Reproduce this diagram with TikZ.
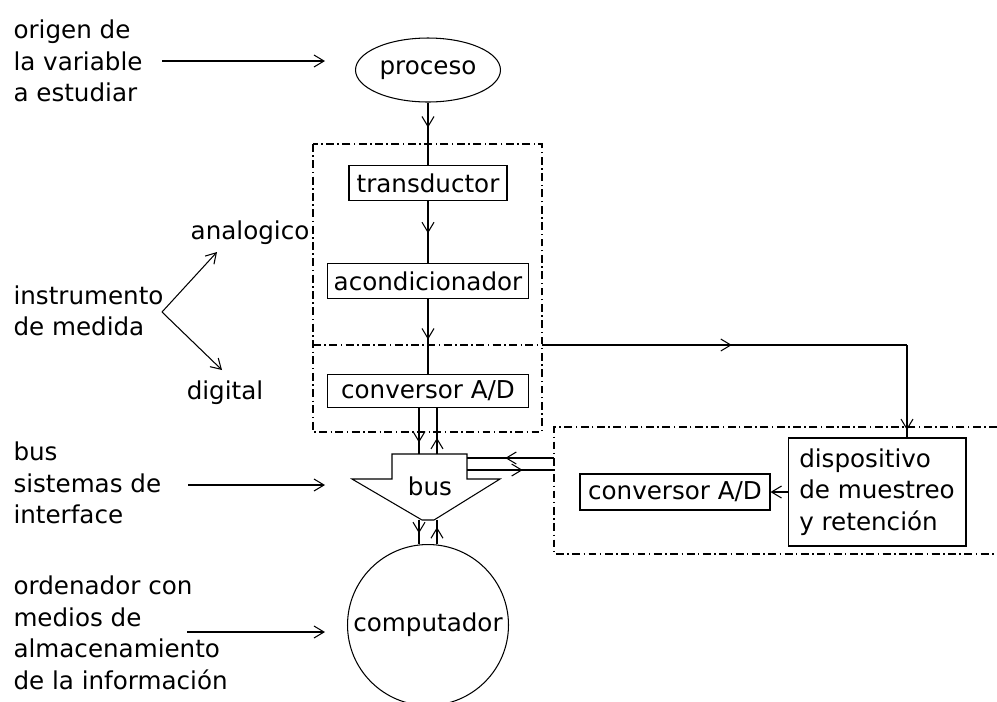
\documentclass[tikz,border=0pt]{standalone}
\usepackage{fontspec}
\setmainfont{DejaVu Sans}
\usetikzlibrary{arrows.meta,decorations.markings,shapes.geometric}

\begin{document}
\begin{tikzpicture}[x=0.02cm, y=-0.02cm, >={Straight Barb[length=2mm,width=2.4mm]},
  line width=0.6pt, font=\fontsize{14}{18}\selectfont,
  box/.style={draw, inner sep=0pt, minimum height=0.7cm},
  lbl/.style={align=left, inner sep=0pt, anchor=west},
  dashdot/.style={dash pattern=on 4.5pt off 2pt on 0.8pt off 2pt},
  midarrow/.style={postaction={decorate},
    decoration={markings, mark=at position #1 with {\arrow{>}}}}]
  \useasboundingbox (0,0) rectangle (997,701);

  % labels on the left
  \node[lbl] (origen) at (13,61) {origen de\\la variable\\a estudiar};
  \node[lbl] (instr) at (13,311) {instrumento\\de medida};
  \node[inner sep=0pt] (analog) at (250,233) {analogico};
  \node[inner sep=0pt] (digit) at (225,393) {digital};
  \node[lbl] (bussis) at (13,483) {bus\\sistemas de\\interface};
  \node[lbl] (orden) at (13,633) {ordenador con\\medios de\\almacenamiento\\de la información};

  \coordinate (o1) at (162,61);  \coordinate (o2) at (325,61);
  \coordinate (v) at (162,312);
  \coordinate (va) at (217,252); \coordinate (vd) at (222,370);
  \coordinate (b1) at (188,485); \coordinate (b2) at (325,485);
  \coordinate (c1) at (187,632); \coordinate (c2) at (325,632);
  \draw[->] (o1) -- (o2);
  \draw[->] (v) -- (va);
  \draw[->] (v) -- (vd);
  \draw[->] (b1) -- (b2);
  \draw[->] (c1) -- (c2);

  % measuring chain
  \node[draw, ellipse, inner sep=0pt, minimum width=2.9cm, minimum height=1.28cm] (proceso) at (428,70) {proceso};
  \node[box, minimum width=3.16cm] (transd) at (428,183) {transductor};
  \node[box, minimum width=4.02cm] (acond) at (428,281) {acondicionador};
  \node[box, minimum width=4.02cm, minimum height=0.66cm] (convA) at (428,391) {conversor A/D};

  \draw[dashdot] (313,144) rectangle (542,432);
  \coordinate (jn) at (428,345);
  \coordinate (dl) at (313,345); \coordinate (dr) at (542,345);
  \coordinate (brk) at (907,345);
  \draw[dashdot] (dl) -- (dr);

  \draw[midarrow=0.4] (proceso.south) -- (transd.north);
  \draw[midarrow=0.52] (transd.south) -- (acond.north);
  \draw[midarrow=0.88] (acond.south) -- (jn);
  \draw (jn) -- (convA.north);
  \draw[midarrow=0.52] (dr) -- (brk);

  % bus
  \node (bus) at (430,486) {bus};
  \draw (392,454) -- (467,454) -- (467,479) -- (500,479) -- (434,520)
    -- (422,520) -- (352,479) -- (392,479) -- cycle;
  \coordinate (busT) at (428,454);
  \coordinate (busB) at (428,520);
  \coordinate (busR1) at (467,458); \coordinate (busR2) at (467,470);

  \draw[midarrow=0.75] ([xshift=-0.18cm]convA.south) -- ([xshift=-0.18cm]busT);
  \draw[midarrow=0.35] ([xshift=0.18cm]busT) -- ([xshift=0.18cm]convA.south);

  % computer
  \node[draw, circle, inner sep=0pt, minimum size=3.22cm] (comp) at (428,625) {computador};
  \draw[midarrow=0.55] ([xshift=-0.18cm]busB) -- ([xshift=-0.18cm]comp.north);
  \draw[midarrow=0.7] ([xshift=0.18cm]comp.north) -- ([xshift=0.18cm]busB);

  % sample and hold branch
  \draw[dashdot] (997,427) -- (554,427) -- (554,554) -- (997,554);
  \coordinate (boxL1) at (554,458); \coordinate (boxL2) at (554,470);
  \draw[midarrow=0.56] (boxL1) -- (busR1);
  \draw[midarrow=0.64] (busR2) -- (boxL2);

  \node[box, minimum width=3.56cm, minimum height=2.16cm, align=left] (disp) at (877,492)
    {dispositivo\\de muestreo\\y retención};
  \node[box, minimum width=3.8cm, minimum height=0.72cm] (convB) at (675,492) {conversor A/D};
  \draw[->] (disp) -- (convB);
  \draw[midarrow=0.92] (brk) -- (brk |- disp.north);
\end{tikzpicture}
\end{document}
